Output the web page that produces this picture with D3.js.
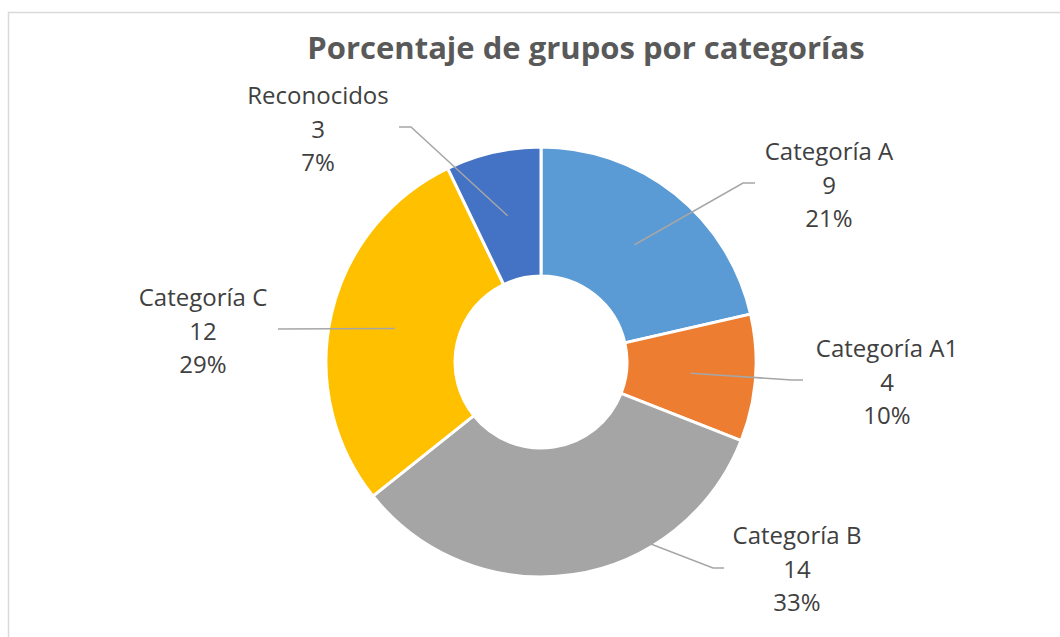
<!DOCTYPE html>
<html>
<head>
<meta charset="utf-8">
<script src="https://cdn.jsdelivr.net/npm/d3@7"></script>
<style>
  body { margin: 0; background: #fff; }
  text { font-family: "Open Sans", "Noto Sans", sans-serif; }
</style>
</head>
<body>
<div class="chartDiv"></div>
<script>
// Doughnut: Porcentaje de grupos por categorías

let categories = ["Categoría A", "Categoría A1", "Categoría B", "Categoría C", "Reconocidos"];
let values = [9, 4, 14, 12, 3];
let colors = ["#5B9BD5", "#ED7D31", "#A5A5A5", "#FFC000", "#4472C4"];

let svgWidth = 1060;
let svgHeight = 637;

let cx = 541, cy = 362;
let outerR = 215, innerR = 86;

// label layout (elbow point, end of leader, text centre) relative to chart centre
let labelLayout = [
  { elbow: [202, -179], end: [214, -179], text: [288, -210] },
  { elbow: [251, 18],   end: [262, 18],   text: [346, -13] },
  { elbow: [172, 206],  end: [183, 206],  text: [256, 174] },
  { elbow: null,        end: [-263, -33], text: [-338, -64] },
  { elbow: [-130, -235], end: [-142, -235], text: [-223, -266] }
];

let svg = d3.select('.chartDiv')
            .append('svg')
            .attr('width', svgWidth)
            .attr('height', svgHeight);

// chart frame
svg.append('rect')
   .attr('x', 8.5)
   .attr('y', 12.5)
   .attr('width', 1200)
   .attr('height', 700)
   .attr('fill', 'none')
   .attr('stroke', '#d9d9d9')
   .attr('stroke-width', 1.5);

svg.append('text')
   .attr('x', 586)
   .attr('y', 59)
   .attr('text-anchor', 'middle')
   .attr('fill', '#595959')
   .attr('font-size', 31)
   .attr('font-weight', 'bold')
   .text('Porcentaje de grupos por categorías');

let total = d3.sum(values);
let data = categories.map((c, i) => ({ name: c, value: values[i], color: colors[i] }));

let pie = d3.pie().sort(null).value(d => d.value);
let arcs = pie(data);

let arc = d3.arc().innerRadius(innerR).outerRadius(outerR);
let midArc = d3.arc().innerRadius(150).outerRadius(150);

let chartGroup = svg.append('g')
                    .attr('transform', `translate(${cx}, ${cy})`);

chartGroup.selectAll('path.slice')
          .data(arcs)
          .enter()
          .append('path')
          .classed('slice', true)
          .attr('d', arc)
          .attr('fill', d => d.data.color)
          .attr('stroke', '#fff')
          .attr('stroke-width', 3);

// leader lines
chartGroup.selectAll('polyline')
          .data(arcs)
          .enter()
          .append('polyline')
          .attr('fill', 'none')
          .attr('stroke', '#a6a6a6')
          .attr('stroke-width', 1.5)
          .attr('points', (d, i) => {
            let lay = labelLayout[i];
            let pts = [midArc.centroid(d)];
            if (lay.elbow) pts.push(lay.elbow);
            pts.push(lay.end);
            return pts.map(p => p.join(',')).join(' ');
          });

// labels
let labels = chartGroup.selectAll('text.lbl')
                       .data(arcs)
                       .enter()
                       .append('text')
                       .classed('lbl', true)
                       .attr('text-anchor', 'middle')
                       .attr('fill', '#404040')
                       .attr('font-size', 24)
                       .attr('transform', (d, i) => `translate(${labelLayout[i].text[0]}, ${labelLayout[i].text[1]})`);

labels.each(function(d) {
  let t = d3.select(this);
  let lines = [d.data.name, d.data.value, Math.round(d.data.value / total * 100) + '%'];
  lines.forEach((l, k) => {
    t.append('tspan')
     .attr('x', 0)
     .attr('y', k * 33.5)
     .attr('dy', '0.35em')
     .text(l);
  });
});
</script>
</body>
</html>
